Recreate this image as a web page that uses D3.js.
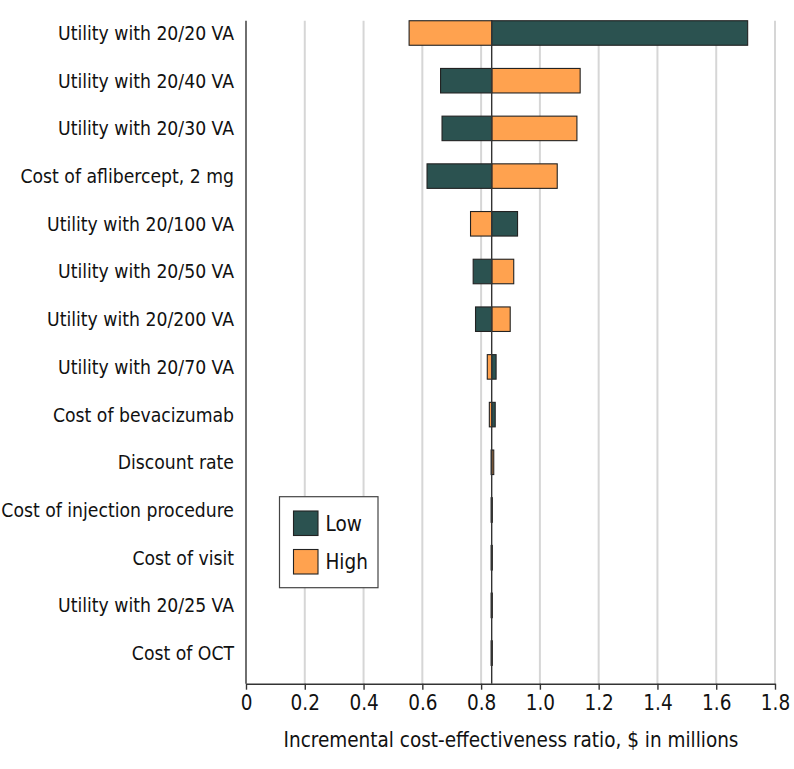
<!DOCTYPE html>
<html>
<head>
<meta charset="utf-8">
<script src="https://cdn.jsdelivr.net/npm/d3@7"></script>
<style>
  html, body { margin: 0; padding: 0; background: #fff; }
  svg text { font-family: "Liberation Sans Narrow", "DejaVu Sans Condensed", sans-serif; fill: #111; }
</style>
</head>
<body>
<svg id="chart" width="794" height="769"></svg>
<script>
const categories = [
  "Utility with 20/20 VA",
  "Utility with 20/40 VA",
  "Utility with 20/30 VA",
  "Cost of aflibercept, 2 mg",
  "Utility with 20/100 VA",
  "Utility with 20/50 VA",
  "Utility with 20/200 VA",
  "Utility with 20/70 VA",
  "Cost of bevacizumab",
  "Discount rate",
  "Cost of injection procedure",
  "Cost of visit",
  "Utility with 20/25 VA",
  "Cost of OCT"
];
const lowValues  = [1.707, 0.662, 0.667, 0.616, 0.924, 0.773, 0.781, 0.851, 0.848, 0.834, 0.834, 0.834, 0.834, 0.834];
const highValues = [0.555, 1.137, 1.126, 1.059, 0.764, 0.911, 0.899, 0.821, 0.828, 0.843, 0.838, 0.838, 0.838, 0.838];
const baseValue = 0.836;
const xTicks = [0, 0.2, 0.4, 0.6, 0.8, 1.0, 1.2, 1.4, 1.6, 1.8];
const xTickLabels = ["0", "0.2", "0.4", "0.6", "0.8", "1.0", "1.2", "1.4", "1.6", "1.8"];
const seriesNames = ["Low", "High"];
const xTitle = "Incremental cost-effectiveness ratio, $ in millions";

const colors = { Low: "#2b5250", High: "#ffa24f" };
const svg = d3.select("#chart");
const fontSize = 20.5;
const labelSize = 19.2;
const fontFam = '"Liberation Sans Narrow", "DejaVu Sans Condensed", sans-serif';

const x = d3.scaleLinear().domain([0, 1.8]).range([246, 775]);
const y = d3.scaleBand().domain(categories).range([9.15, 676.95]).paddingInner(0.486).paddingOuter(0.243);
const plotTop = y(categories[0]);
const axisY = 683.7;

// gridlines
svg.append("g").selectAll("line").data(xTicks.filter(t => t > 0)).join("line")
  .attr("x1", d => x(d)).attr("x2", d => x(d))
  .attr("y1", plotTop).attr("y2", axisY)
  .attr("stroke", "#d6d6d6").attr("stroke-width", 2);

// bars
const rows = categories.map((c, i) => ({ c, low: lowValues[i], high: highValues[i] }));
const barG = svg.append("g");
["High", "Low"].forEach(s => {
  barG.selectAll(null).data(rows).join("rect")
    .attr("x", d => x(Math.min(baseValue, s === "Low" ? d.low : d.high)))
    .attr("width", d => Math.abs(x(s === "Low" ? d.low : d.high) - x(baseValue)))
    .attr("y", d => y(d.c))
    .attr("height", y.bandwidth())
    .attr("fill", colors[s])
    .attr("stroke", "#222")
    .attr("stroke-width", 1.1);
});

// baseline
svg.append("line")
  .attr("x1", x(baseValue)).attr("x2", x(baseValue))
  .attr("y1", plotTop).attr("y2", axisY)
  .attr("stroke", "#333").attr("stroke-width", 1.4);

// x axis
const xAxis = d3.axisBottom(x).tickValues(xTicks)
  .tickFormat((d, i) => xTickLabels[i]).tickSize(6).tickSizeOuter(0).tickPadding(6);
const gx = svg.append("g").attr("transform", `translate(0,${axisY})`).call(xAxis);
gx.select(".domain").attr("stroke", "#333").attr("stroke-width", 1.4);
gx.selectAll(".tick line").attr("stroke", "#333").attr("stroke-width", 1.4);
gx.selectAll(".tick text").attr("font-size", fontSize).attr("fill", "#111")
  .style("font-family", fontFam);

// y axis line
svg.append("line")
  .attr("x1", x(0)).attr("x2", x(0))
  .attr("y1", plotTop).attr("y2", axisY)
  .attr("stroke", "#333").attr("stroke-width", 1.4);

// category labels
svg.append("g").selectAll("text").data(categories).join("text")
  .attr("x", 234)
  .attr("y", d => y(d) + y.bandwidth() / 2)
  .attr("dy", "0.36em")
  .attr("text-anchor", "end")
  .attr("font-size", labelSize)
  .text(d => d);

// x title
svg.append("text")
  .attr("x", 511).attr("y", 740).attr("dy", "0.36em")
  .attr("text-anchor", "middle").attr("font-size", fontSize)
  .text(xTitle);

// legend
const lg = svg.append("g");
lg.append("rect").attr("x", 279.5).attr("y", 496.7).attr("width", 98.5).attr("height", 91)
  .attr("fill", "#fff").attr("stroke", "#444").attr("stroke-width", 1.2);
seriesNames.forEach((s, i) => {
  const yy = 511 + i * 38.5;
  lg.append("rect").attr("x", 293.5).attr("y", yy).attr("width", 24.5).attr("height", 24.5)
    .attr("fill", colors[s]).attr("stroke", "#222").attr("stroke-width", 1.1);
  lg.append("text").attr("x", 325.5).attr("y", yy + 12.25).attr("dy", "0.36em")
    .attr("font-size", fontSize).text(s);
});
</script>
</body>
</html>
